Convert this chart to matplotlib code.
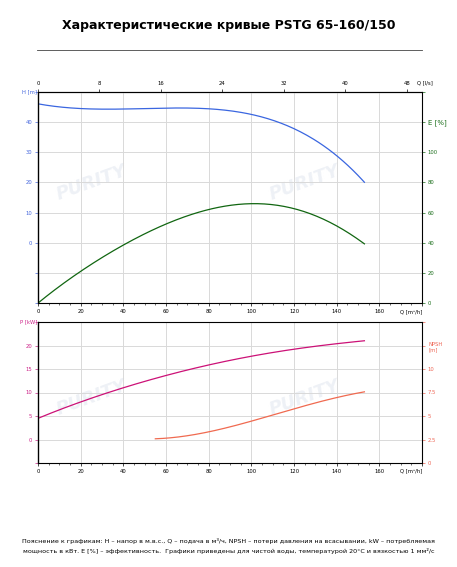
import matplotlib
matplotlib.use("Agg")
import matplotlib.pyplot as plt
import numpy as np

q_h = [0, 10, 20, 30, 40, 50, 60, 70, 80, 90, 100, 110, 120, 130, 140, 153]
h = [46, 45.2, 44.5, 44.3, 44.3, 44.4, 44.6, 44.8, 44.6, 43.8, 42.5, 40.5, 37.8, 34, 29, 20]
q_e = [0, 20, 40, 60, 80, 100, 120, 140, 153]
e = [0, 20.7, 39, 52, 62, 66, 62.7, 51, 39.3]
q_p = [0, 20, 40, 60, 80, 100, 120, 140, 153]
p = [4.5, 8, 11, 13.6, 15.9, 17.7, 19.2, 20.4, 21]
q_n = [55, 60, 70, 80, 90, 100, 110, 120, 130, 140, 153]
npsh = [2.57, 2.65, 2.9, 3.3, 3.85, 4.46, 5.1, 5.75, 6.4, 6.96, 7.57]
q_ticks = list(range(0, 181, 20))
q_labels = [str(v) for v in q_ticks[:-1]] + [""]

def smooth(x, y, n=200):
    x = np.asarray(x, float); y = np.asarray(y, float)
    c = np.polyfit(x, y, min(len(x) - 1, 5))
    xs = np.linspace(x[0], x[-1], n)
    return xs, np.polyval(c, xs)

W, H = 457, 567
fig = plt.figure(figsize=(W / 100, H / 100), dpi=100)
fs = 3.8
grid_c = "#d9d9d9"

def ax_at(l, t, r, b):
    return fig.add_axes([l / W, 1 - b / H, (r - l) / W, (b - t) / H])

def style(ax):
    ax.set_xlim(0, 180)
    ax.set_xticks(q_ticks)
    ax.set_xticklabels(q_labels)
    ax.set_xticks(range(0, 181, 5), minor=True)
    ax.grid(True, color=grid_c, lw=0.7)
    ax.tick_params(labelsize=fs, length=2, width=0.5, pad=2)
    ax.tick_params(which="minor", length=1.2, width=0.4)
    for s in ax.spines.values():
        s.set_color("#999999"); s.set_linewidth(0.6)
    ax.spines["left"].set_color("#555555"); ax.spines["left"].set_linewidth(1.0)

def watermark(ax, y):
    for x in (25, 125):
        ax.text(x, y, "PURITY", fontsize=13, color="#eef1f6", fontweight="bold", style="italic",
                rotation=20, ha="center", va="center", zorder=0)

fig.text(0.5, 1 - 25 / H, "Характеристические кривые PSTG 65-160/150", ha="center", va="center",
         fontsize=9, fontweight="bold")
fig.add_artist(plt.Line2D([37 / W, 422 / W], [1 - 50 / H, 1 - 50 / H], color="#444444", lw=0.6))

# top chart
a1 = ax_at(38, 92, 422, 303)
style(a1)
a1.set_ylim(-20, 50)
a1.set_yticks(range(-20, 51, 10))
a1.set_yticklabels(["", "", "0", "10", "20", "30", "40", ""])
a1.tick_params(axis="y", colors="#4466dd")
watermark(a1, 20)
xs, ys = smooth(q_h, h)
a1.plot(xs, ys, color="#3a66e0", lw=0.9)
a1.text(180, -22.2, "Q [m³/h]", fontsize=fs, ha="right", va="top")
a1.text(-0.5, 50, "H [m]", fontsize=fs, ha="right", va="center", color="#4466dd")
e1 = a1.twinx()
e1.set_ylim(0, 140)
e1.set_yticks(range(0, 141, 20))
e1.set_yticklabels(["0", "20", "40", "60", "80", "100", "", ""])
e1.tick_params(labelsize=fs, length=2, width=0.5, colors="#1a6e1a", pad=2)
e1.text(183, 120, "E [%]", fontsize=5, color="#1a6e1a", va="center")
xs, ys = smooth(q_e, e)
e1.plot(xs, ys, color="#116611", lw=0.9)
top = a1.secondary_xaxis("top", functions=(lambda x: x / 3.6, lambda x: x * 3.6))
top.set_xticks(range(0, 49, 8))
top.tick_params(labelsize=fs, length=2, width=0.5, pad=2)
a1.text(185, 52.3, "Q [l/s]", fontsize=fs, ha="right", va="bottom")

# bottom chart
a2 = ax_at(38, 322, 422, 463)
style(a2)
a2.set_ylim(-5, 25)
a2.set_yticks(range(-5, 26, 5))
a2.set_yticklabels(["", "0", "5", "10", "15", "20", ""])
a2.tick_params(axis="y", colors="#cc2288")
watermark(a2, 9)
xs, ys = smooth(q_p, p)
a2.plot(xs, ys, color="#cc1177", lw=0.9)
a2.text(-0.5, 25, "P [kW]", fontsize=fs, ha="right", va="center", color="#cc2288")
a2.text(180, -6.2, "Q [m³/h]", fontsize=fs, ha="right", va="top")
n2 = a2.twinx()
n2.set_ylim(0, 15)
n2.set_yticks([0, 2.5, 5, 7.5, 10, 12.5, 15])
n2.set_yticklabels(["0", "2.5", "5", "7.5", "10", "", ""])
n2.tick_params(labelsize=fs, length=2, width=0.5, colors="#ee6655", pad=2)
n2.text(183, 12.3, "NPSH\n[m]", fontsize=fs, color="#ee6655", va="center")
xs, ys = smooth(q_n, npsh)
n2.plot(xs, ys, color="#f06a50", lw=0.9)

fig.text(0.5, 1 - 546 / H,
         "Пояснение к графикам: H – напор в м.в.с., Q – подача в м³/ч, NPSH – потери давления на всасывании, kW – потребляемая\n"
         "мощность в кВт. E [%] – эффективность.  Графики приведены для чистой воды, температурой 20°C и вязкостью 1 мм²/с",
         ha="center", va="center", fontsize=4.6, linespacing=1.6)
fig.savefig("out.png", dpi=100)
